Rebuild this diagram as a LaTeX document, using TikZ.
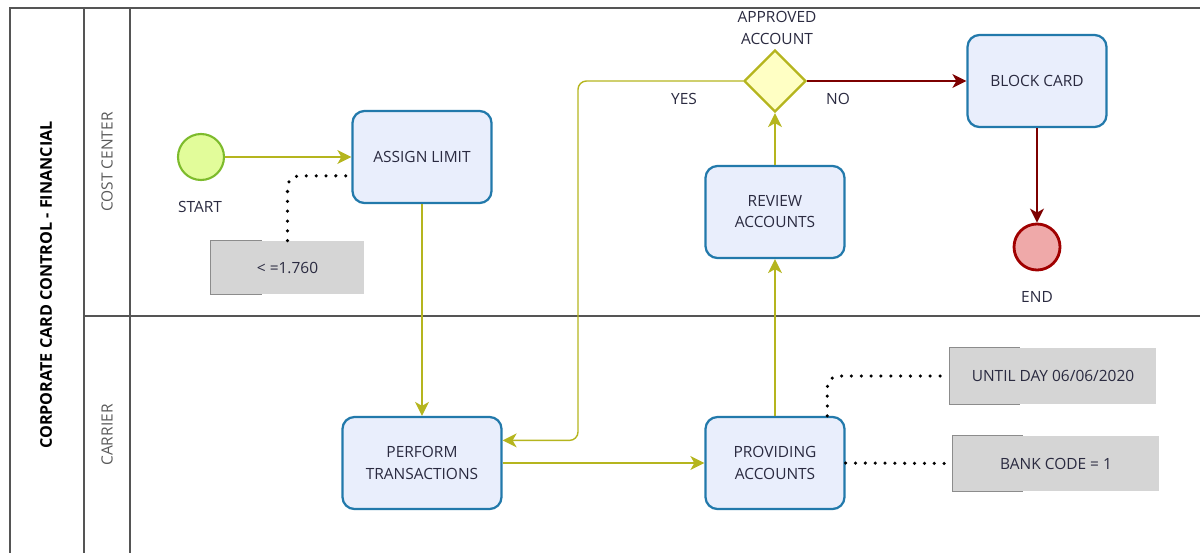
\documentclass[tikz,border=0pt]{standalone}
\usepackage{fontspec}
\setmainfont{Open Sans}
\usetikzlibrary{shapes.geometric,arrows.meta,calc}
\definecolor{taskline}{HTML}{2279AB}
\definecolor{taskfill}{HTML}{E9EEFC}
\definecolor{flowcol}{HTML}{B5B51E}
\definecolor{gwfill}{HTML}{FFFFC4}
\definecolor{startfill}{HTML}{E2FC9A}
\definecolor{startline}{HTML}{7DBB2C}
\definecolor{endfill}{HTML}{EFA9A9}
\definecolor{endline}{HTML}{A00000}
\definecolor{nocol}{HTML}{7D0000}
\definecolor{notefill}{HTML}{D5D5D5}
\definecolor{notebar}{HTML}{8C8C8C}
\definecolor{txt}{HTML}{2A2A40}
\definecolor{poolline}{HTML}{555555}
\definecolor{lanetxt}{HTML}{5A5A5A}
\begin{document}
\begin{tikzpicture}[x=0.025cm, y=-0.025cm, font=\fontsize{11}{15}\selectfont, text=txt]
			\tikzstyle{Task} = [rectangle, rounded corners=0.3cm, draw=taskline, fill=taskfill, line width=1.6pt, minimum width=3.475cm, minimum height=2.3cm, align=center]
			\tikzstyle{StartEv} = [circle, draw=startline, fill=startfill, line width=1.5pt, minimum size=1.15cm, inner sep=0pt]
			\tikzstyle{EndEv} = [circle, draw=endline, fill=endfill, line width=2pt, minimum size=1.15cm, inner sep=0pt]
			\tikzstyle{Gateway} = [diamond, aspect=1, draw=flowcol, fill=gwfill, line width=1.6pt, minimum width=1.55cm, minimum height=1.55cm, inner sep=0pt]
			\tikzstyle{Note} = [rectangle, fill=notefill, inner sep=0pt]
			\tikzstyle{Bracket} = [draw=notebar, line width=0.8pt]
			\tikzstyle{Pool} = [draw=poolline, line width=0.9pt]
			\tikzstyle{Flow} = [draw=flowcol, line width=1pt, -{Stealth[length=0.35cm, width=0.35cm, inset=0.1cm]}]
			\tikzstyle{NoFlow} = [draw=nocol, line width=1pt, -{Stealth[length=0.35cm, width=0.35cm, inset=0.1cm]}]
			\tikzstyle{Assoc} = [draw=black, line width=2.5pt, line cap=round, dash pattern=on 0pt off 7pt]
			\useasboundingbox (0,0) rectangle (1200,553);
			% pool and lanes
			\draw [Pool] (1200,8) -- (10,8) -- (10,553);
			\draw [Pool] (84,8) -- (84,553);
			\draw [Pool] (130,8) -- (130,553);
			\draw [Pool] (84,316) -- (1200,316);
			\node (pool) at (46,285) [rotate=90, font=\fontsize{11.5}{15}\selectfont\bfseries, text=black] {CORPORATE CARD CONTROL - FINANCIAL};
			\node (lane1) at (107,162) [rotate=90, text=lanetxt] {COST CENTER};
			\node (lane2) at (107,435) [rotate=90, text=lanetxt] {CARRIER};
			% events, tasks, gateway
			\node (start) at (201,157) [StartEv] {};
			\node (startlbl) at (200,207) {START};
			\node (assign) at (422,157) [Task] {ASSIGN LIMIT};
			\node (perform) at (422,463) [Task, minimum width=3.975cm] {PERFORM\\TRANSACTIONS};
			\node (prov) at (775,463) [Task] {PROVIDING\\ACCOUNTS};
			\node (review) at (775,212) [Task] {REVIEW\\ACCOUNTS};
			\node (gw) at (775,81) [Gateway] {};
			\node (gwlbl) at (777,28) [align=center] {APPROVED\\ACCOUNT};
			\node (block) at (1037,81) [Task] {BLOCK CARD};
			\node (end) at (1037,247) [EndEv] {};
			\node (endlbl) at (1037,297) {END};
			\node (yes) at (684,99) {YES};
			\node (no) at (838,99) {NO};
			% annotations
			\node (limit) at (287.5,267.5) [Note, minimum width=3.825cm, minimum height=1.325cm] {< =1.760};
			\node (until) at (1053,376) [Note, minimum width=5.15cm, minimum height=1.4cm] {UNTIL DAY 06/06/2020};
			\node (bank) at (1056,463.5) [Note, minimum width=5.15cm, minimum height=1.375cm] {BANK CODE = 1};
			\foreach \n/\w in {limit/1.275cm, until/1.75cm, bank/1.75cm}
				\draw [Bracket] ([xshift=\w]\n.north west) -- (\n.north west) -- (\n.south west) -- ([xshift=\w]\n.south west);
			% flows
			\coordinate (yesbend) at (578,81);
			\draw [Flow] (start) to (assign);
			\draw [Flow] (assign) to (perform);
			\draw [Flow] (perform) to (prov);
			\draw [Flow] (prov) to (review);
			\draw [Flow] (review) to (gw);
			\draw [Flow, rounded corners=6] (gw.west) -- (yesbend) |- ($(perform.east)!0.48!(perform.north east)$);
			\draw [NoFlow] (gw) to (block);
			\draw [NoFlow] (block) to (end);
			\draw [Assoc, rounded corners=8] (limit.north) |- ($(assign.west)!0.4!(assign.south west)$);
			\draw [Assoc, rounded corners=8] ($(prov.north)!0.74!(prov.north east)$) |- (until.west);
			\draw [Assoc] (prov.east) to (bank.west);
		\end{tikzpicture}
\end{document}
